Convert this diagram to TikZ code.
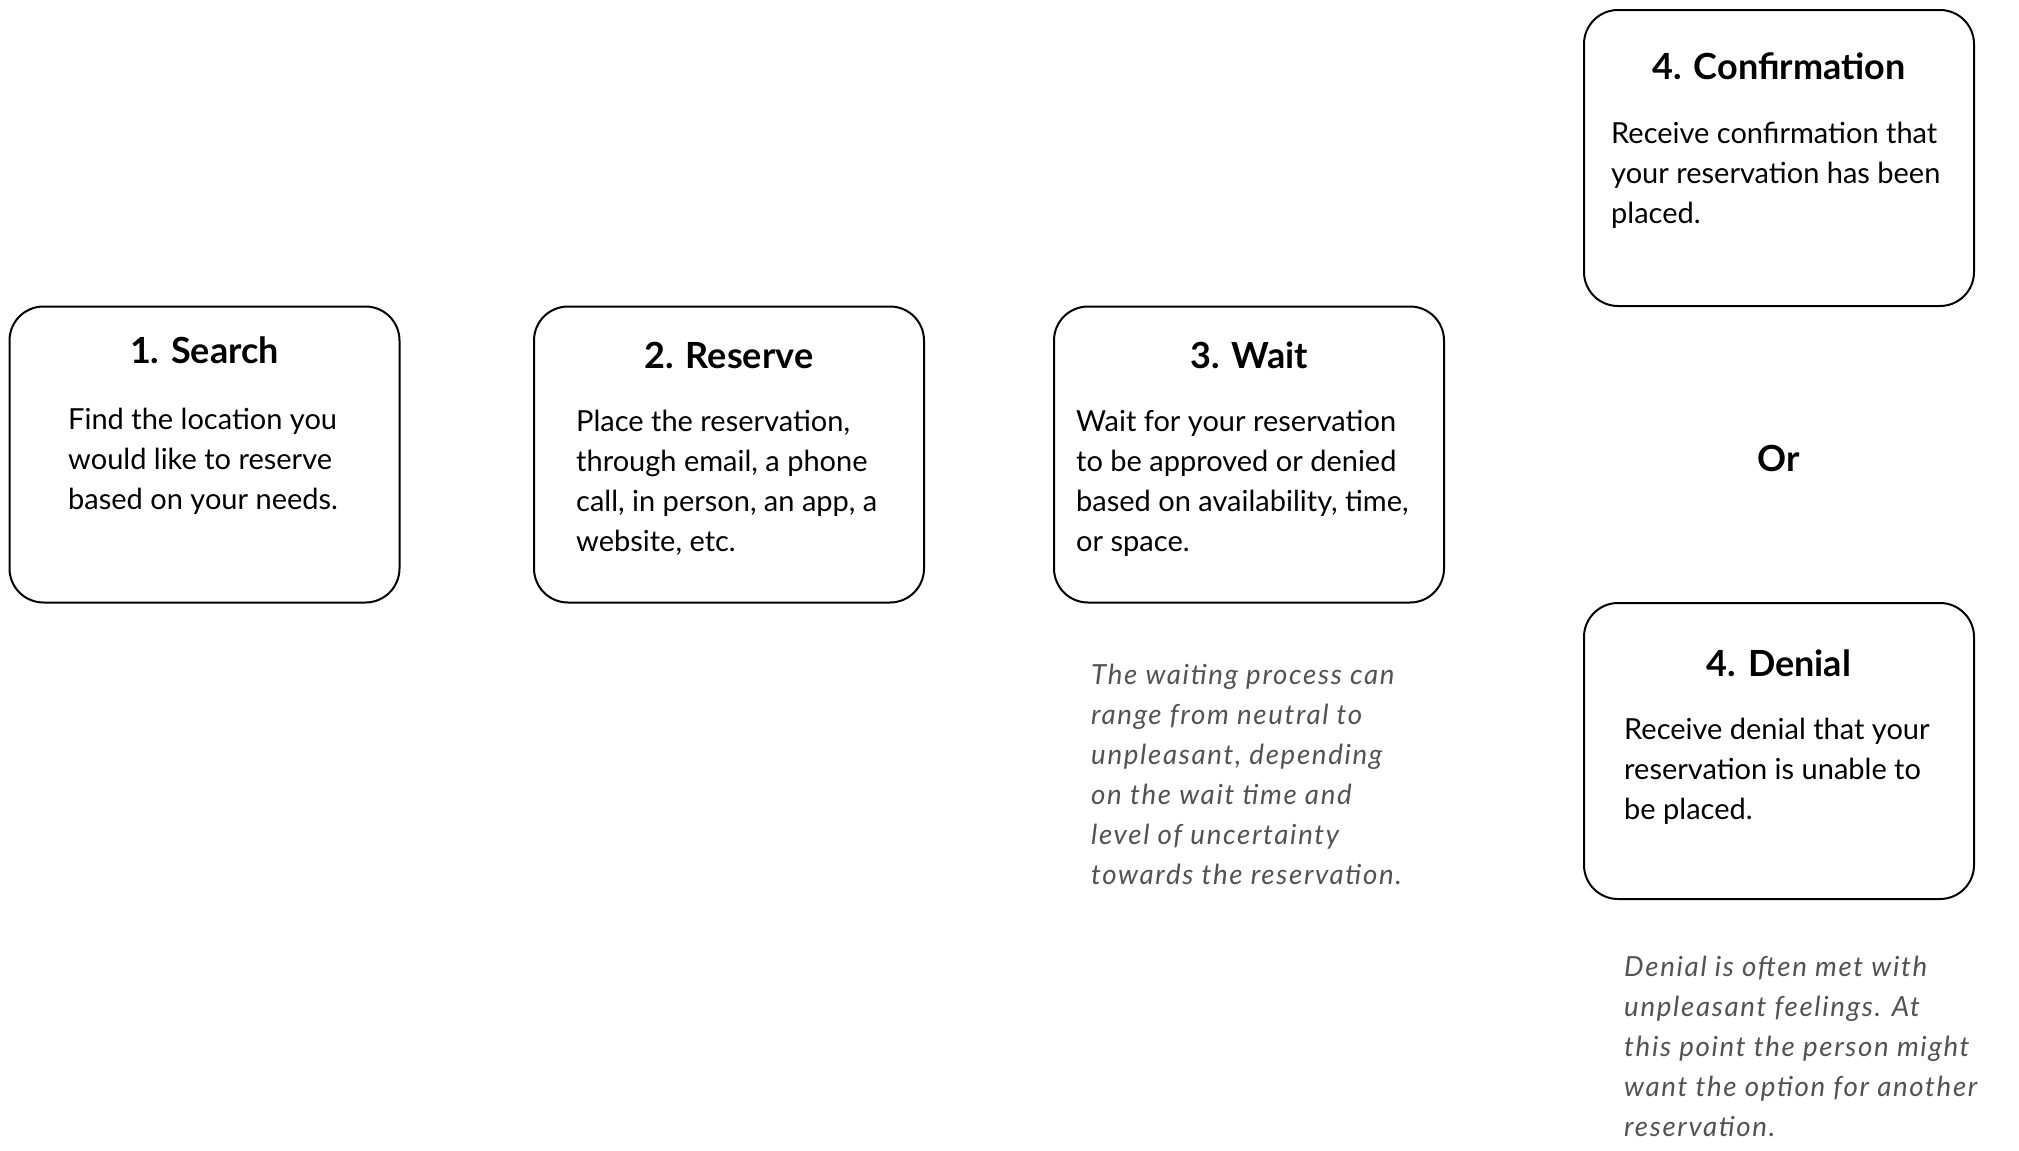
\documentclass[tikz,border=0pt]{standalone}
\usepackage{fontspec}
\setmainfont{Lato}
\newfontfamily\notefont[LetterSpace=6]{Lato}
\begin{document}
\begin{tikzpicture}[x=1pt,y=-1pt,
  stepbox/.style={draw=black,line width=2pt,rounded corners=34pt,minimum width=390pt,minimum height=296pt,inner sep=0pt},
  ttl/.style={font=\fontsize{36}{40}\selectfont\bfseries,inner sep=0pt,anchor=base},
  body/.style={font=\fontsize{29}{40}\selectfont,inner sep=0pt,anchor=base west,align=left},
  note/.style={font=\notefont\fontsize{27.7}{40}\selectfont\itshape,text=black!68,inner sep=0pt,anchor=base west,align=left},
  ortxt/.style={font=\fontsize{36}{40}\selectfont\bfseries,inner sep=0pt}]
\useasboundingbox (0,0) rectangle (2019,1151);
\node[stepbox] (b1) at (204.5,454.5) {};
\node[stepbox] (b2) at (729,454.5) {};
\node[stepbox] (b3) at (1249,454.5) {};
\node[stepbox] (b4) at (1779,158) {};
\node[stepbox] (b5) at (1779,751) {};
\node[ttl] (t1) at (204.5,363) {1. Search};
\node[ttl] (t2) at (729,368) {2. Reserve};
\node[ttl] (t3) at (1249,368) {3. Wait};
\node[ttl] (t4) at (1779,79) {4. Confirmation};
\node[ttl] (t5) at (1779,676) {4. Denial};
\node[body] (x1) at (68,509) {Find the location you\\would like to reserve\\based on your needs.};
\node[body] (x2) at (576,551) {Place the reservation,\\through email, a phone\\call, in person, an app, a\\website, etc.};
\node[body] (x3) at (1076,551) {Wait for your reservation\\to be approved or denied\\based on availability, time,\\or space.};
\node[body] (x4) at (1611,223) {Receive confirmation that\\your reservation has been\\placed.};
\node[body] (x5) at (1624,819) {Receive denial that your\\reservation is unable to\\be placed.};
\node[ortxt] (or) at (1779,458) {Or};
\node[note] (n1) at (1091,884) {The waiting process can\\range from neutral to\\unpleasant, depending\\on the wait time and\\level of uncertainty\\towards the reservation.};
\node[note] (n2) at (1624,1136) {Denial is often met with\\unpleasant feelings. At\\this point the person might\\want the option for another\\reservation.};
\end{tikzpicture}
\end{document}
